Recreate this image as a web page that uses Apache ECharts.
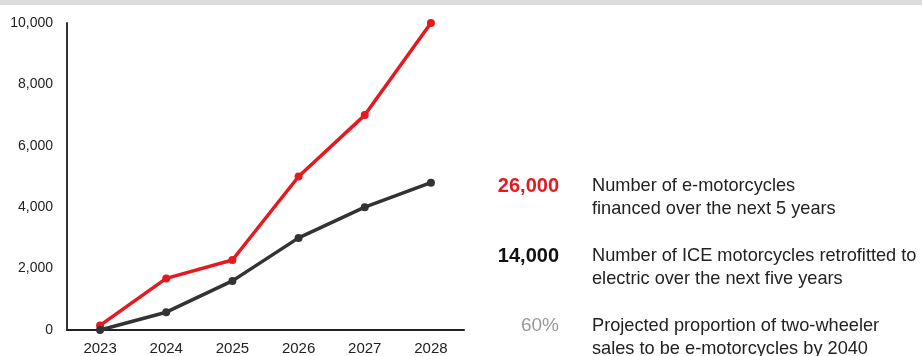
<!DOCTYPE html>
<html><head><meta charset="utf-8">
<script src="https://cdn.jsdelivr.net/npm/echarts@6/dist/echarts.min.js"></script>
<style>html,body{margin:0;padding:0;background:#fff}#c{width:922px;height:356px}</style>
</head><body><div id="c"></div>
<script>
var years = ['2023','2024','2025','2026','2027','2028'];
var eMotoFinanced = [150, 1680, 2280, 5000, 7000, 10000];
var iceRetrofitted = [0, 580, 1600, 3000, 4000, 4800];
var yTicks = [0, 2000, 4000, 6000, 8000, 10000];
var stats = [
  {value: '26,000', line1: 'Number of e-motorcycles', line2: 'financed over the next 5 years'},
  {value: '14,000', line1: 'Number of ICE motorcycles retrofitted to', line2: 'electric over the next five years'},
  {value: '60%', line1: 'Projected proportion of two-wheeler', line2: 'sales to be e-motorcycles by 2040'}
];
var statStyles = [
  {color: '#e5191f', weight: 'bold', size: 20},
  {color: '#111111', weight: 'bold', size: 20},
  {color: '#9a9a9a', weight: 'normal', size: 19}
];
var statY = [186, 256, 326];

var chart = echarts.init(document.getElementById('c'));
var FF = 'Liberation Sans, Arial, sans-serif';
var graphics = [{type: 'rect', shape: {x: 0, y: 0, width: 922, height: 5}, style: {fill: '#dcdcdc'}}];
stats.forEach(function (s, i) {
  var y = statY[i];
  graphics.push({type: 'text', x: 559, y: y, style: {text: s.value, fill: statStyles[i].color, fontWeight: statStyles[i].weight, fontSize: statStyles[i].size, fontFamily: FF, align: 'right', verticalAlign: 'middle'}});
  graphics.push({type: 'text', x: 592, y: y, style: {text: s.line1, fill: '#222', fontSize: 18.2, fontFamily: FF, align: 'left', verticalAlign: 'middle'}});
  graphics.push({type: 'text', x: 592, y: y + 23, style: {text: s.line2, fill: '#222', fontSize: 18.2, fontFamily: FF, align: 'left', verticalAlign: 'middle'}});
});

chart.setOption({
  animation: false,
  textStyle: {fontFamily: FF},
  grid: {left: 67, right: 458, top: 23, bottom: 25},
  xAxis: {
    type: 'category', data: years, boundaryGap: true,
    axisLine: {lineStyle: {color: '#222', width: 2}},
    axisTick: {show: false},
    axisLabel: {color: '#222', fontSize: 15, margin: 11}
  },
  yAxis: {
    type: 'value', min: 0, max: 10000, interval: 2000,
    axisLine: {show: true, lineStyle: {color: '#333', width: 2}},
    axisTick: {show: false},
    splitLine: {show: false},
    axisLabel: {color: '#222', fontSize: 14, margin: 14,
      formatter: function (v) { return yTicks.indexOf(v) >= 0 ? v.toLocaleString('en-US') : ''; }}
  },
  series: [
    {type: 'line', name: 'ICE retrofitted', data: iceRetrofitted, symbol: 'circle', symbolSize: 8,
      lineStyle: {color: '#333333', width: 3.5}, itemStyle: {color: '#333333'}, z: 2},
    {type: 'line', name: 'e-motorcycles financed', data: eMotoFinanced, symbol: 'circle', symbolSize: 8,
      lineStyle: {color: '#e5191f', width: 3.5}, itemStyle: {color: '#e5191f'}, z: 1}
  ],
  graphic: graphics
});
</script></body></html>
